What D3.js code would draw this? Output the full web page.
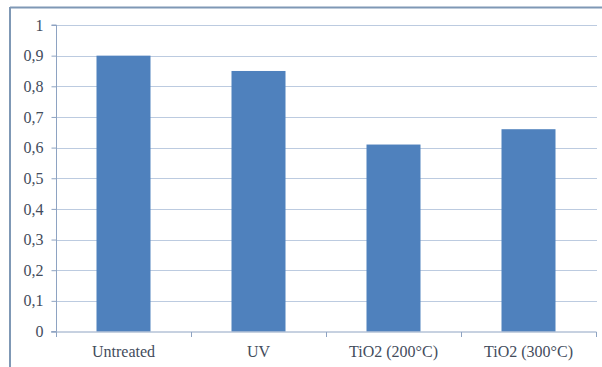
<!DOCTYPE html>
<html>
<head>
<meta charset="utf-8">
<script src="https://cdn.jsdelivr.net/npm/d3@7"></script>
<style>
  html, body { margin: 0; padding: 0; background: #fff; }
  svg { display: block; }
</style>
</head>
<body>
<svg id="chart" width="602" height="367"></svg>
<script>
const categories = ["Untreated", "UV", "TiO2 (200°C)", "TiO2 (300°C)"];
const values = [0.90, 0.85, 0.61, 0.66];
const yTicks = [0, 0.1, 0.2, 0.3, 0.4, 0.5, 0.6, 0.7, 0.8, 0.9, 1];

const FONT = "'Liberation Serif', 'Times New Roman', serif";
const TEXT_COLOR = "#434c5c";
const svg = d3.select("#chart");
const W = 602, H = 367;
const plot = { left: 56, right: 596, top: 25, bottom: 331.5 };

// outer frame (top and left edges)
svg.append("line").attr("x1", 10).attr("x2", W).attr("y1", 7.5).attr("y2", 7.5)
  .attr("stroke", "#7f98b5").attr("stroke-width", 2);
svg.append("line").attr("x1", 10).attr("x2", 10).attr("y1", 7).attr("y2", H)
  .attr("stroke", "#7f98b5").attr("stroke-width", 2);

const x = d3.scaleBand().domain(categories).range([plot.left, plot.right]).paddingInner(0).paddingOuter(0);
const y = d3.scaleLinear().domain([0, 1]).range([plot.bottom, plot.top]);

const fmt = d => d === 0 ? "0" : d === 1 ? "1" : d3.format(".1f")(d).replace(".", ",");

// gridlines
svg.append("g").selectAll("line").data(yTicks.filter(d => d > 0)).join("line")
  .attr("x1", plot.left).attr("x2", plot.right + 1)
  .attr("y1", d => Math.round(y(d)) + 0.5).attr("y2", d => Math.round(y(d)) + 0.5)
  .attr("stroke", "#bccbe0").attr("stroke-width", 1.2);

// bars
const barW = 54;
svg.append("g").selectAll("rect").data(categories).join("rect")
  .attr("x", d => x(d) + x.bandwidth() / 2 - barW / 2)
  .attr("width", barW)
  .attr("y", (d, i) => y(values[i]))
  .attr("height", (d, i) => plot.bottom - y(values[i]))
  .attr("fill", "#4f81bd");

// y axis
const yAxis = d3.axisLeft(y).tickValues(yTicks).tickFormat(fmt).tickSize(5).tickPadding(8);
const gy = svg.append("g").attr("transform", `translate(${plot.left + 0.5},0)`).call(yAxis)
  .attr("font-family", FONT).attr("font-size", 16);
gy.select(".domain").attr("stroke", "#8ea3c2").attr("d", `M-5,${plot.top}H0V${plot.bottom}H-5`);
gy.selectAll(".tick line").attr("stroke", "#8ea3c2");
gy.selectAll(".tick text").attr("fill", TEXT_COLOR);

// x axis
const gx = svg.append("g").attr("transform", `translate(0,${plot.bottom + 0.5})`)
  .attr("font-family", FONT).attr("font-size", 16);
gx.append("line").attr("x1", plot.left - 5).attr("x2", plot.right + 0.5)
  .attr("stroke", "#8ea3c2");
const boundaries = categories.map(c => x(c)).concat([plot.right]);
gx.selectAll("line.tk").data(boundaries).join("line").attr("class", "tk")
  .attr("x1", d => Math.round(d) + 0.5).attr("x2", d => Math.round(d) + 0.5)
  .attr("y1", 0).attr("y2", 5).attr("stroke", "#8ea3c2");
gx.selectAll("text").data(categories).join("text")
  .attr("x", d => x(d) + x.bandwidth() / 2)
  .attr("y", 25)
  .attr("text-anchor", "middle")
  .attr("fill", TEXT_COLOR)
  .text(d => d);
</script>
</body>
</html>
